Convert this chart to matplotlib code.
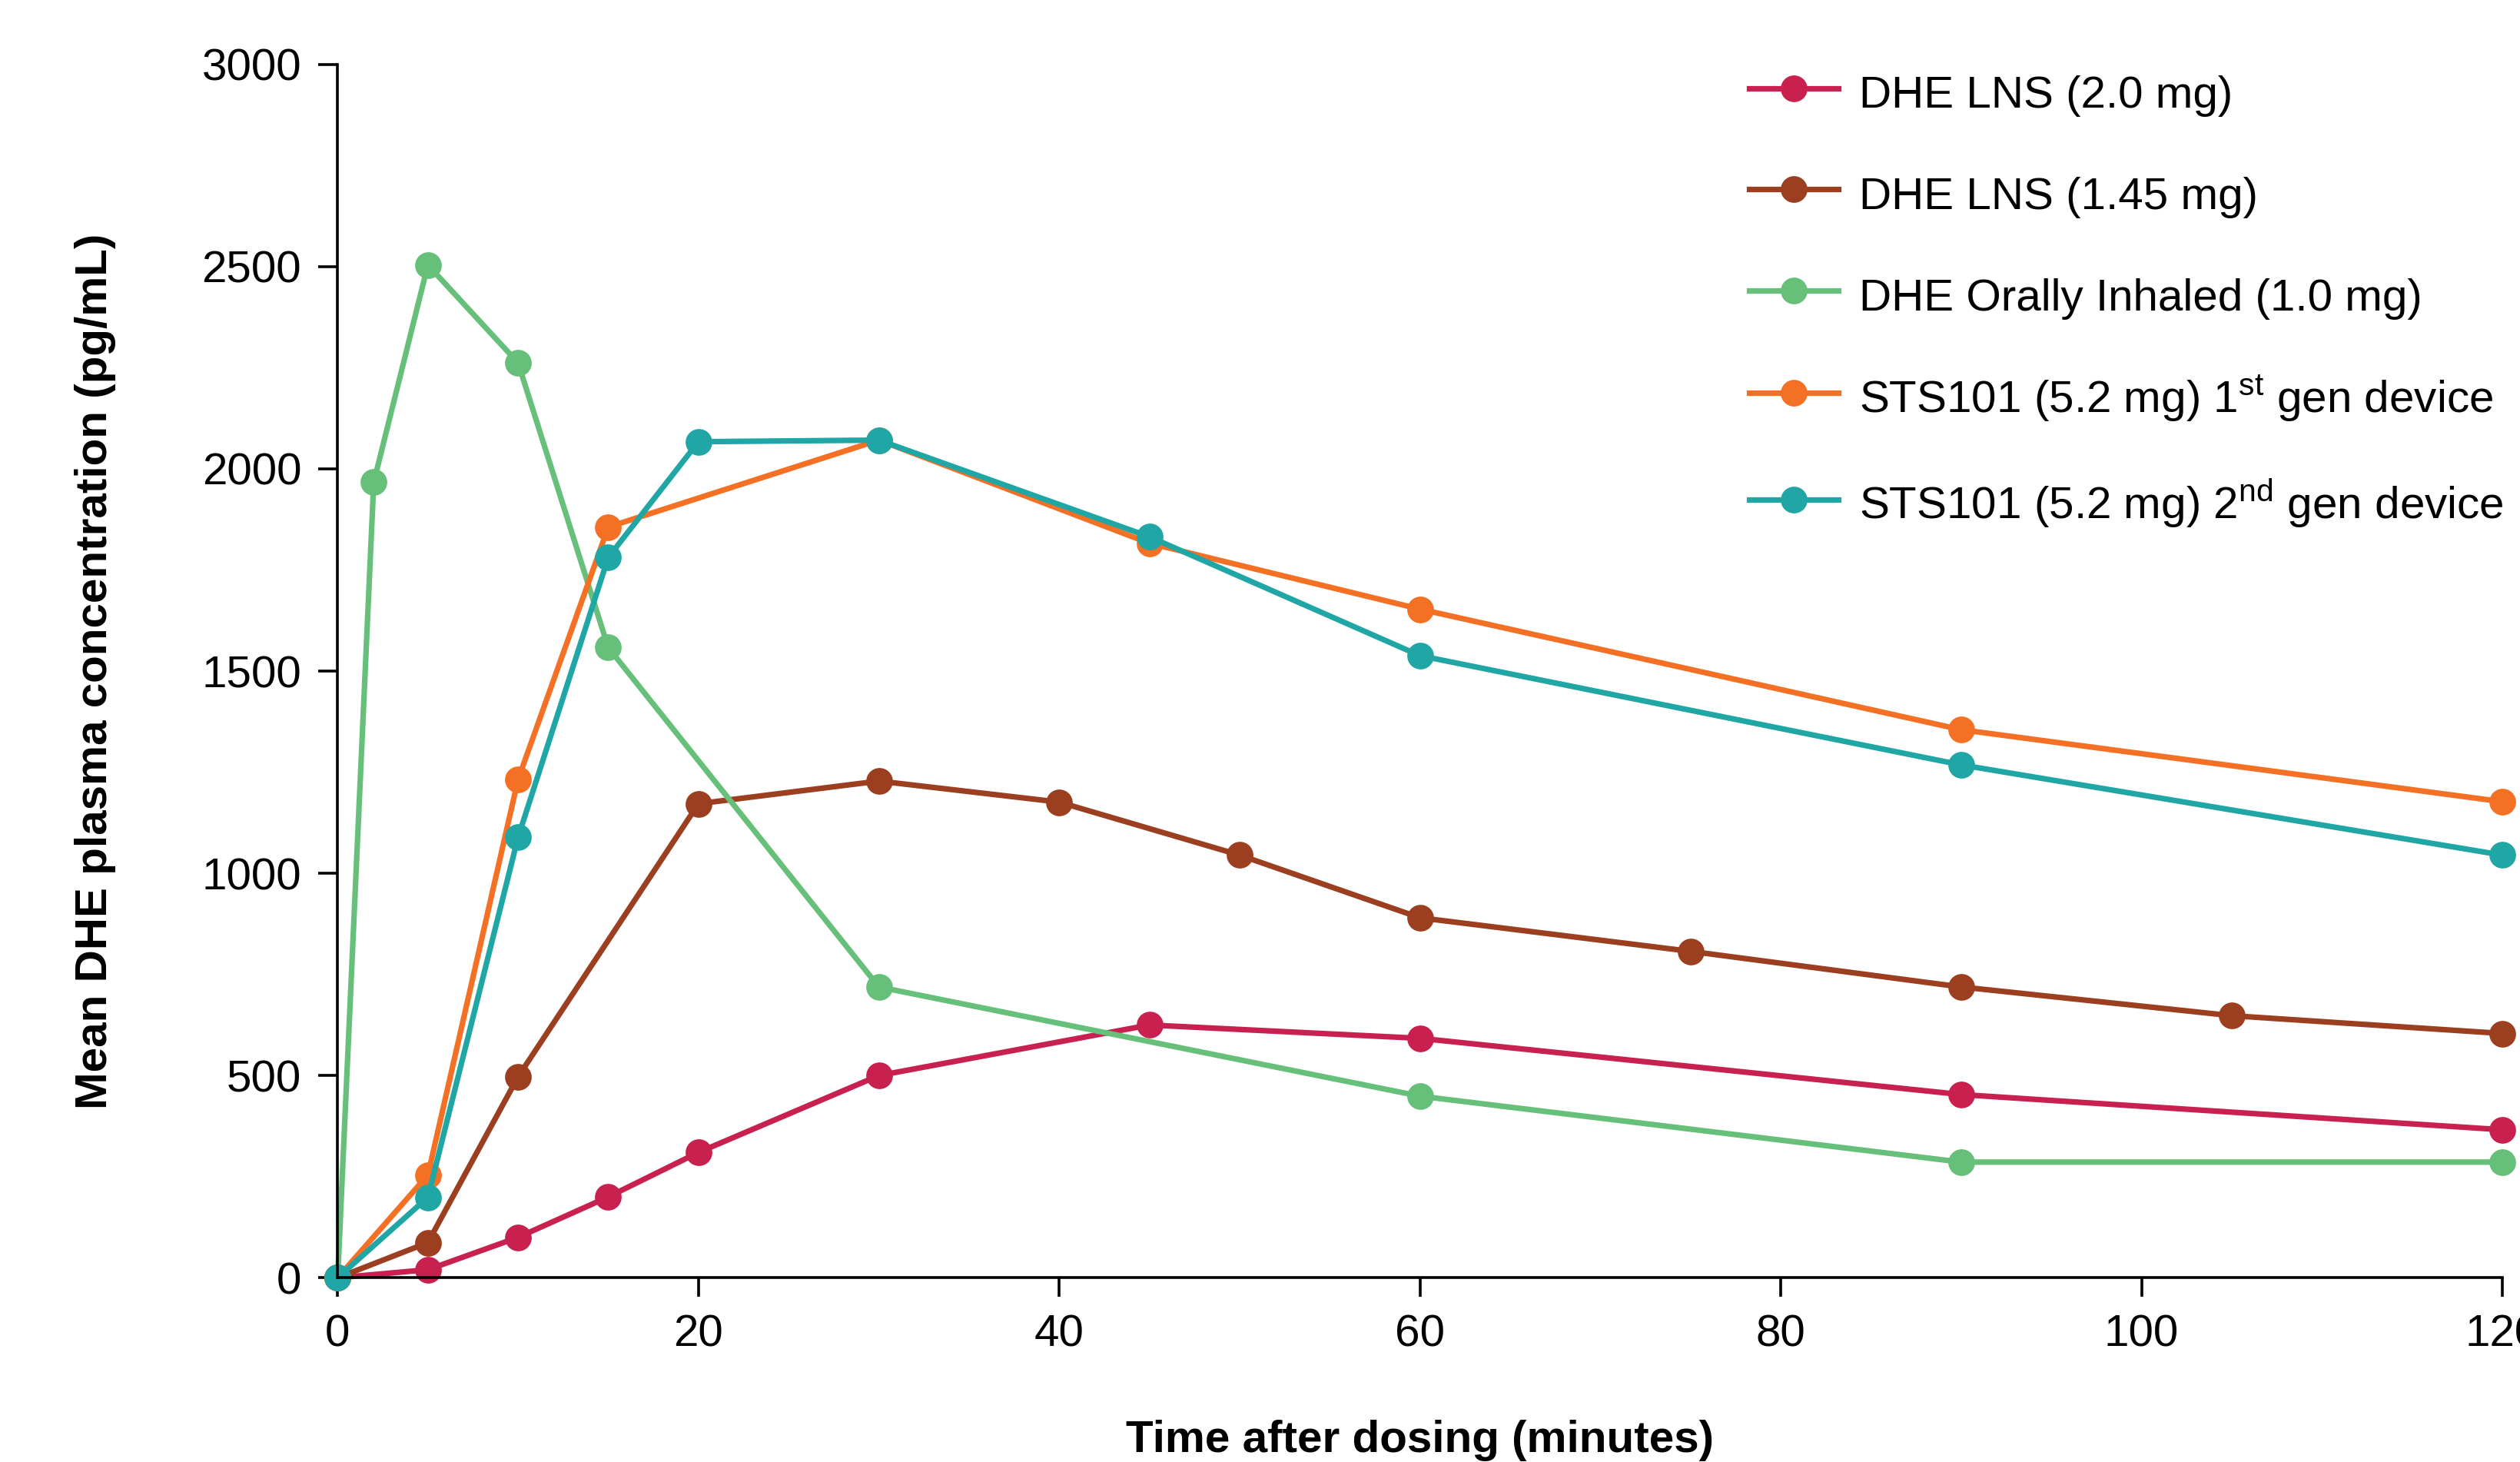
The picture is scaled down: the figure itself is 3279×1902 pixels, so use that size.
import matplotlib
matplotlib.use("Agg")
import matplotlib.pyplot as plt
from matplotlib import font_manager

# data
t_lns20 = [0, 5, 10, 15, 20, 30, 45, 60, 90, 120]
c_lns20 = [0, 20, 100, 200, 310, 500, 625, 592, 453, 366]

t_lns145 = [0, 5, 10, 20, 30, 40, 50, 60, 75, 90, 105, 120]
c_lns145 = [0, 87, 497, 1172, 1228, 1176, 1045, 890, 807, 719, 648, 604]

t_oral = [0, 2, 5, 10, 15, 30, 60, 90, 120]
c_oral = [0, 1967, 2504, 2262, 1558, 719, 449, 286, 286]

t_sts1 = [0, 5, 10, 15, 30, 45, 60, 90, 120]
c_sts1 = [0, 254, 1232, 1856, 2071, 1816, 1653, 1355, 1177]

t_sts2 = [0, 5, 10, 15, 20, 30, 45, 60, 90, 120]
c_sts2 = [0, 199, 1089, 1781, 2067, 2071, 1832, 1538, 1268, 1045]

labels = ["DHE LNS (2.0 mg)", "DHE LNS (1.45 mg)", "DHE Orally Inhaled (1.0 mg)",
          r"STS101 (5.2 mg) 1$^{\mathrm{st}}$ gen device",
          r"STS101 (5.2 mg) 2$^{\mathrm{nd}}$ gen device"]
colors = ["#C8204F", "#9B3F20", "#66C07A", "#F37025", "#20A6A5"]

installed = {f.name for f in font_manager.fontManager.ttflist}
narrow = "Liberation Sans Narrow" if "Liberation Sans Narrow" in installed else "Liberation Sans"
plt.rcParams["font.family"] = [narrow, "DejaVu Sans"]
plt.rcParams["mathtext.fontset"] = "custom"
plt.rcParams["mathtext.rm"] = narrow

fig = plt.figure(figsize=(16.395, 9.51), dpi=200)
ax = fig.add_axes([0.134, 0.126, 0.859, 0.830])

series = [(t_lns20, c_lns20), (t_lns145, c_lns145), (t_oral, c_oral),
          (t_sts1, c_sts1), (t_sts2, c_sts2)]
for (t, c), lab, col in zip(series, labels, colors):
    ax.plot(t, c, "-o", color=col, lw=2.6, ms=11.5, label=lab, clip_on=False)

ax.set_xlim(0, 120)
ax.set_ylim(0, 3000)
ax.set_xticks(range(0, 121, 20))
ax.set_yticks(range(0, 3001, 500))
ax.spines[["top", "right"]].set_visible(False)
for s in ["left", "bottom"]:
    ax.spines[s].set_linewidth(1.3)
ax.tick_params(direction="out", length=9, width=1.3, labelsize=21, pad=8)

ax.set_xlabel("Time after dosing (minutes)", fontsize=21, fontweight="bold",
              family=["Liberation Sans", "DejaVu Sans"], labelpad=30)
ax.set_ylabel("Mean DHE plasma concentration (pg/mL)", fontsize=21, fontweight="bold",
              family=["Liberation Sans", "DejaVu Sans"], labelpad=40)

# tall handle boxes so rows with superscripts keep the same pitch
fig.legend(loc="upper left", bbox_to_anchor=(0.694, 0.953), frameon=False,
           fontsize=21, labelspacing=1.19, handlelength=2.0, handleheight=1.25,
           handletextpad=0.45, borderpad=0, borderaxespad=0)

fig.savefig("out.png", dpi=200)
